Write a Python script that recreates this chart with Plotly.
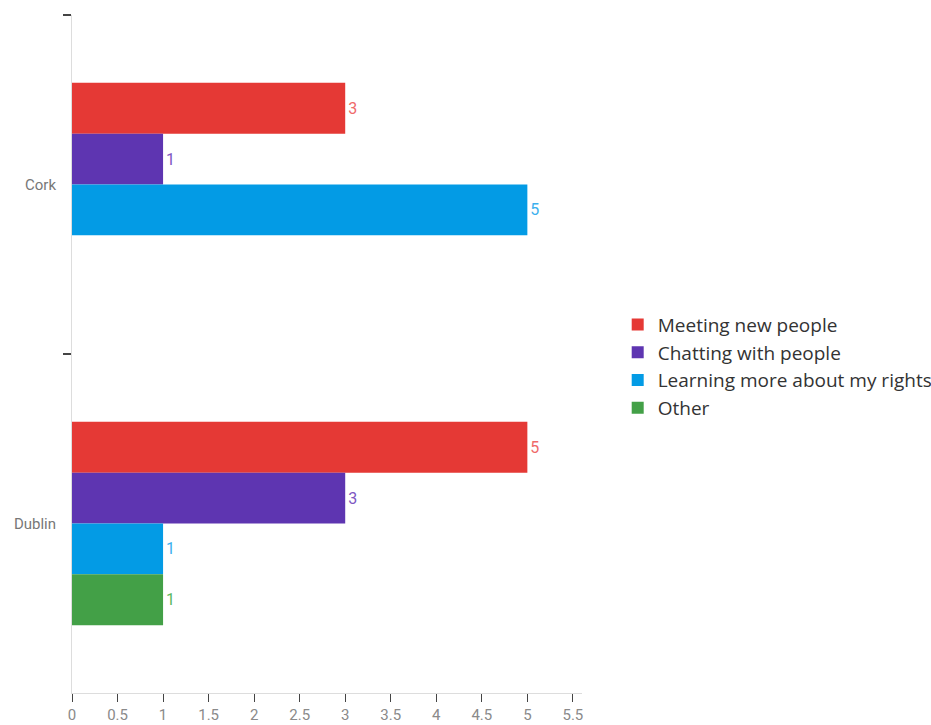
import plotly.graph_objects as go

categories = ["Cork", "Dublin"]
series_names = ["Meeting new people", "Chatting with people", "Learning more about my rights", "Other"]
meeting = [3, 5]
chatting = [1, 3]
learning = [5, 1]
other = [None, 1]
series_values = [meeting, chatting, learning, other]
bar_colors = ["#E53935", "#5E35B1", "#039BE5", "#43A047"]
label_colors = ["#EF6A6A", "#7E57C2", "#3BB0EE", "#5CB860"]
x_ticks = [0, 0.5, 1, 1.5, 2, 2.5, 3, 3.5, 4, 4.5, 5, 5.5]
x_tick_labels = ["0", "0.5", "1", "1.5", "2", "2.5", "3", "3.5", "4", "4.5", "5", "5.5"]

fig = go.Figure()
for name, vals, c, lc in zip(series_names, series_values, bar_colors, label_colors):
    fig.add_trace(go.Bar(
        y=categories, x=vals, name=name, orientation="h",
        marker=dict(color=c, line=dict(width=0)),
        text=[("" if v is None else str(v)) for v in vals],
        textposition="outside", cliponaxis=False,
        textfont=dict(color=lc, size=16, family="Roboto, Open Sans, sans-serif"),
    ))

fig.update_layout(
    width=931, height=725,
    margin=dict(l=72, r=349, t=15, b=32, autoexpand=False),
    barmode="group", bargap=0.4, bargroupgap=0,
    plot_bgcolor="white", paper_bgcolor="white",
    legend=dict(x=1.07, xanchor="left", y=0.482, yanchor="middle",
                font=dict(size=19, color="#333333", family="Open Sans, Noto Sans, sans-serif"),
                tracegroupgap=0, itemwidth=30, traceorder="normal"),
    xaxis=dict(range=[0, 5.6], tickvals=x_ticks, ticktext=x_tick_labels,
               showgrid=False, zeroline=False, showline=True, linecolor="#dddddd", linewidth=1,
               ticks="outside", ticklen=8, tickcolor="#444444", tickwidth=1,
               tickfont=dict(size=15, color="#8a8a8a", family="Roboto, sans-serif")),
    yaxis=dict(type="category", autorange="reversed", showgrid=False, zeroline=False,
               showline=True, linecolor="#dddddd", linewidth=1,
               ticks="outside", ticklen=8, tickcolor="#444444", tickwidth=2, tickson="boundaries",
               ticklabelstandoff=12,
               tickfont=dict(size=15, color="#777777", family="Roboto, sans-serif")),
)

fig.write_html("out.html")
